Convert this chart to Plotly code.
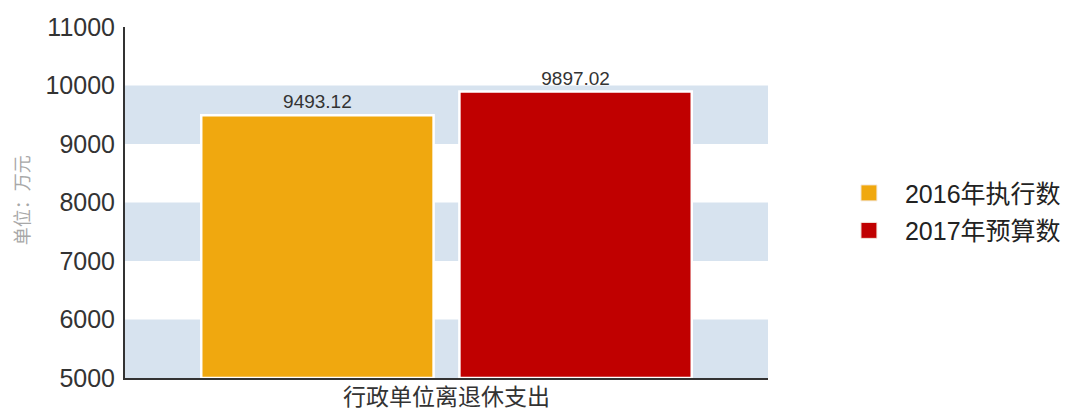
import plotly.graph_objects as go

categories = ["行政单位离退休支出"]
series_names = ["2016年执行数", "2017年预算数"]
values_2016 = [9493.12]
values_2017 = [9897.02]
y_ticks = [5000, 6000, 7000, 8000, 9000, 10000, 11000]
y_tick_labels = ["5000", "6000", "7000", "8000", "9000", "10000", "11000"]
band_ranges = [(5000, 6000), (7000, 8000), (9000, 10000)]

colors = ["#F0A80F", "#C00000"]
FONT = "Liberation Sans, Arial, Noto Sans CJK SC, sans-serif"

fig = go.Figure()
for name, vals, col in zip(series_names, [values_2016, values_2017], colors):
    fig.add_trace(go.Bar(
        x=categories, y=[v - 5000 for v in vals], base=5000, name=name,
        legendgroup=name, showlegend=False,
        marker=dict(color=col, line=dict(color="white", width=2.5)),
        text=[f"{v:.2f}" for v in vals], textposition="outside",
        textfont=dict(size=19, color="#333333", family=FONT),
        cliponaxis=False,
    ))
# legend entries (square swatches)
for name, col in zip(series_names, colors):
    fig.add_trace(go.Scatter(
        x=[None], y=[None], mode="markers", name=name, legendgroup=name,
        marker=dict(symbol="square", size=16, color=col, line=dict(color="#F4E9E0", width=1)),
    ))

for lo, hi in band_ranges:
    fig.add_shape(type="rect", xref="paper", yref="y", x0=0, x1=1, y0=lo, y1=hi,
                  fillcolor="#D7E3EF", line_width=0, layer="below")

fig.add_annotation(text="单位：万元", xref="paper", yref="paper", x=-0.177, y=0.507,
                   textangle=-90, showarrow=False,
                   font=dict(size=18, color="#A8A8A8", family=FONT))

fig.update_layout(
    width=1085, height=410,
    margin=dict(l=117, r=325, t=19, b=40, autoexpand=False),
    paper_bgcolor="white", plot_bgcolor="white",
    barmode="group", bargap=0.197, bargroupgap=0.1,
    font=dict(family=FONT, color="#333333"),
    legend=dict(x=1.101, y=0.474, xanchor="left", yanchor="middle",
                font=dict(size=25, color="#222222", family=FONT),
                itemwidth=62, tracegroupgap=2, itemsizing="trace"),
    xaxis=dict(showline=True, linecolor="#333333", linewidth=2, ticks="", automargin=False,
               tickfont=dict(size=23, color="#333333", family=FONT), showgrid=False,
               ticklabelstandoff=-3),
    yaxis=dict(range=[5000, 11000], tickvals=y_ticks, ticktext=y_tick_labels,
               showline=True, linecolor="#333333", automargin=False,
               linewidth=2, showgrid=False, zeroline=False, ticks="",
               tickfont=dict(size=25, color="#333333", family=FONT), ticklabelstandoff=3),
)

fig.write_html("out.html")
